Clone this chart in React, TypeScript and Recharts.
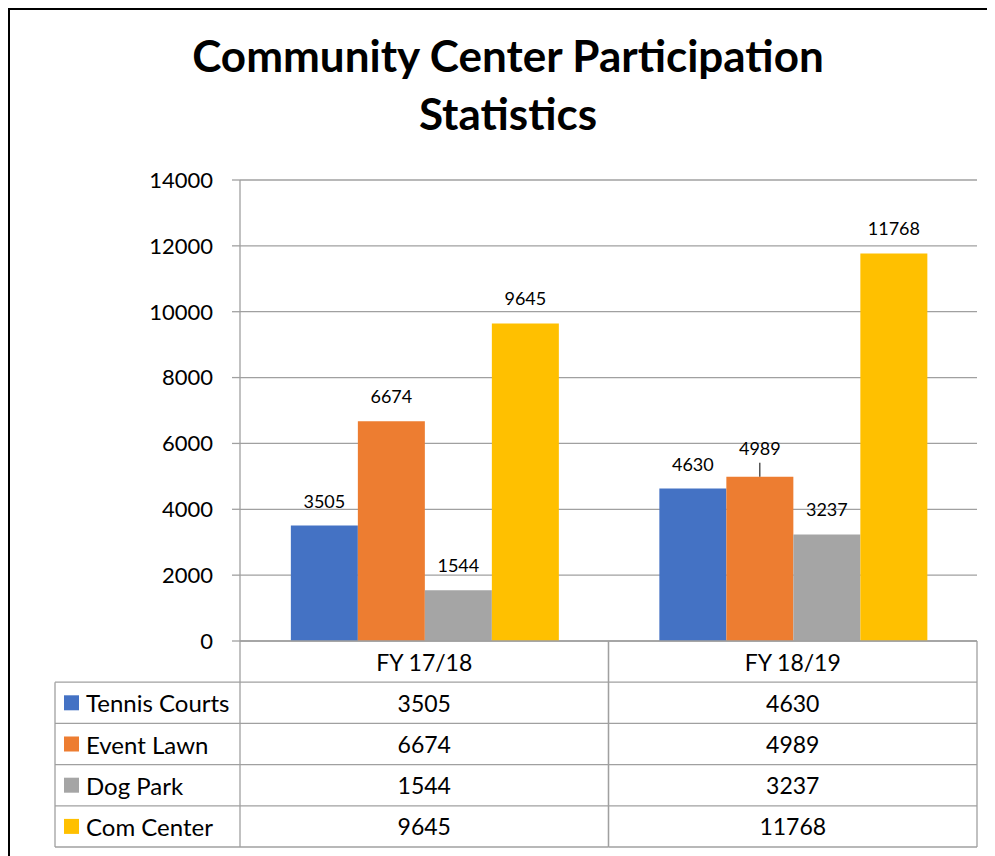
import { BarChart, Bar, XAxis, YAxis, CartesianGrid, LabelList } from 'recharts'

const categories = ['FY 17/18', 'FY 18/19']
const tennisCourts = [3505, 4630]
const eventLawn = [6674, 4989]
const dogPark = [1544, 3237]
const comCenter = [9645, 11768]
const yTicks = [0, 2000, 4000, 6000, 8000, 10000, 12000, 14000]

const SERIES = [
  { key: 'tennis', name: 'Tennis Courts', values: tennisCourts, color: '#4472C4' },
  { key: 'lawn', name: 'Event Lawn', values: eventLawn, color: '#ED7D31' },
  { key: 'dog', name: 'Dog Park', values: dogPark, color: '#A5A5A5' },
  { key: 'center', name: 'Com Center', values: comCenter, color: '#FFC000' },
]

const data = categories.map((cat, i) => {
  const row: Record<string, string | number> = { cat }
  SERIES.forEach((s) => {
    row[s.key] = s.values[i]
  })
  return row
})

const CHART_W = 985
const CHART_H = 846
const MARGIN = { top: 170, right: 18, bottom: 8, left: 0 }
const Y_AXIS_W = 230
const X_AXIS_H = 207
const LEGEND_COL_W = 185
const ROW_H = 41.2
const GRID = '#a0a0a0'
const FONT = 'Lato, "Open Sans", sans-serif'

const plotW = CHART_W - MARGIN.left - MARGIN.right - Y_AXIS_W
const halfBand = plotW / categories.length / 2

function TableTick(props: any) {
  const { x, y, payload, index } = props
  const left = x - halfBand
  const right = x + halfBand
  const bottom = y + ROW_H * (SERIES.length + 1)
  const rows = SERIES.map((s, r) => {
    const top = y + ROW_H * (r + 1)
    return (
      <g key={s.key}>
        <line x1={index === 0 ? left - LEGEND_COL_W : left} x2={right} y1={top} y2={top} stroke={GRID} strokeWidth={1.3} />
        <text x={x} y={top + ROW_H / 2} textAnchor="middle" dominantBaseline="central" fontSize={23} fill="#000">
          {s.values[index]}
        </text>
        {index === 0 && (
          <g>
            <rect x={left - LEGEND_COL_W + 9} y={top + ROW_H / 2 - 7.5} width={15} height={15} fill={s.color} />
            <text x={left - LEGEND_COL_W + 31} y={top + ROW_H / 2} dominantBaseline="central" fontSize={24} fill="#000">
              {s.name}
            </text>
          </g>
        )}
      </g>
    )
  })
  return (
    <g>
      <text x={x} y={y + ROW_H / 2} textAnchor="middle" dominantBaseline="central" fontSize={23} fill="#000">
        {payload.value}
      </text>
      {rows}
      <line x1={index === 0 ? left - LEGEND_COL_W : left} x2={right} y1={bottom} y2={bottom} stroke={GRID} strokeWidth={1.3} />
      <line x1={left} x2={left} y1={y} y2={bottom} stroke={GRID} strokeWidth={1.3} />
      <line x1={right} x2={right} y1={y} y2={bottom} stroke={GRID} strokeWidth={1.3} />
      {index === 0 && (
        <line x1={left - LEGEND_COL_W} x2={left - LEGEND_COL_W} y1={y + ROW_H} y2={bottom} stroke={GRID} strokeWidth={1.3} />
      )}
    </g>
  )
}

// Event Lawn FY 18/19 label sits higher with a short leader line
function LawnLabel(props: any) {
  const { x, y, width, value, index } = props
  const cx = x + width / 2
  if (index === 1) {
    return (
      <g>
        <line x1={cx} x2={cx} y1={y - 14} y2={y} stroke="#000" strokeWidth={1} />
        <text x={cx} y={y - 22} textAnchor="middle" fontSize={18} fill="#000">
          {value}
        </text>
      </g>
    )
  }
  return (
    <text x={cx} y={y - 18} textAnchor="middle" fontSize={18} fill="#000">
      {value}
    </text>
  )
}

export default function App() {
  return (
    <div
      style={{
        position: 'relative',
        width: 987,
        height: 848,
        boxSizing: 'border-box',
        borderTop: '2px solid #000',
        borderLeft: '2px solid #000',
        overflow: 'hidden',
        fontFamily: FONT,
        background: '#fff',
      }}
    >
      <div
        style={{
          position: 'absolute',
          top: 16,
          left: 0,
          width: 996,
          textAlign: 'center',
          fontSize: 44,
          fontWeight: 700,
          lineHeight: '58px',
          color: '#000',
        }}
      >
        Community Center Participation
        <br />
        Statistics
      </div>
      <BarChart
        width={CHART_W}
        height={CHART_H}
        data={data}
        margin={MARGIN}
        barCategoryGap="13.8%"
        barGap={0}
      >
        <CartesianGrid vertical={false} stroke={GRID} strokeWidth={1.3} />
        <YAxis
          width={Y_AXIS_W}
          domain={[0, 14000]}
          ticks={yTicks}
          interval={0}
          tickSize={8}
          tickMargin={19}
          axisLine={{ stroke: GRID, strokeWidth: 1.3 }}
          tickLine={{ stroke: GRID, strokeWidth: 1.3 }}
          tick={{ fontSize: 22, fill: '#000' }}
        />
        <XAxis
          dataKey="cat"
          height={X_AXIS_H}
          interval={0}
          tickSize={0}
          tickMargin={0}
          tickLine={false}
          axisLine={{ stroke: GRID, strokeWidth: 1.3 }}
          tick={<TableTick />}
        />
        {SERIES.map((s) => (
          <Bar key={s.key} dataKey={s.key} name={s.name} fill={s.color} isAnimationActive={false}>
            {s.key === 'lawn' ? (
              <LabelList dataKey={s.key} content={<LawnLabel />} />
            ) : (
              <LabelList dataKey={s.key} position="top" offset={18} fontSize={18} fill="#000" />
            )}
          </Bar>
        ))}
      </BarChart>
    </div>
  )
}
